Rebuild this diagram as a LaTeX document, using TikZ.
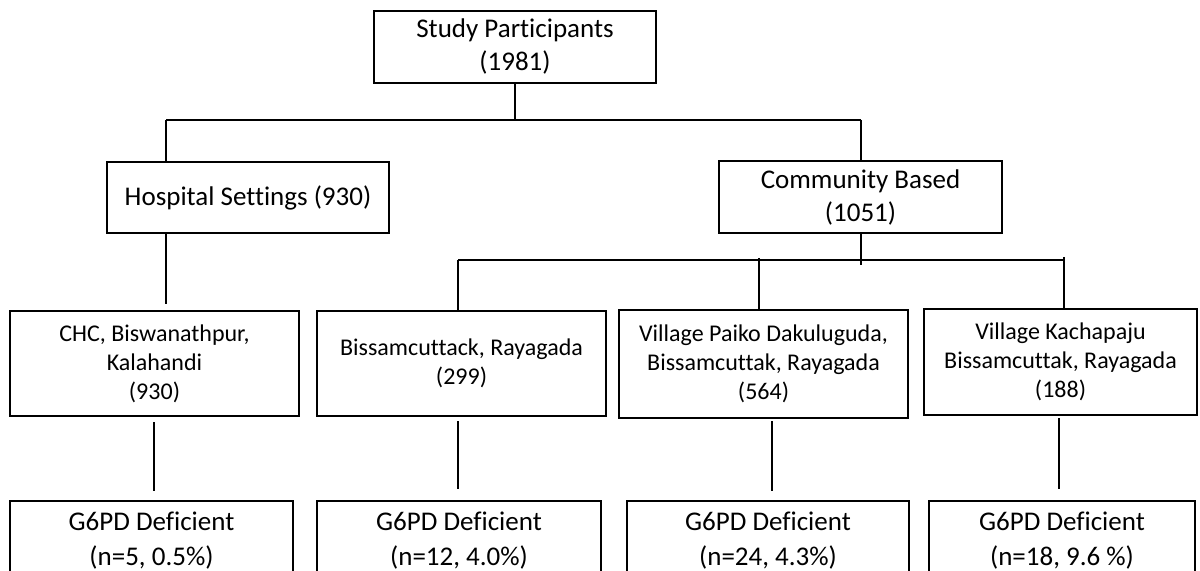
\documentclass[tikz,border=0pt]{standalone}
\usepackage{fontspec}
\setmainfont{Carlito}[Ligatures=NoCommon]
\begin{document}
\begin{tikzpicture}[x=1bp,y=-1bp,
  box/.style={draw=black, line width=2.6bp, inner sep=0pt, align=center, text=black},
  big/.style={font=\fontsize{27bp}{33bp}\selectfont},
  mid/.style={font=\fontsize{24bp}{29bp}\selectfont},
  low/.style={font=\fontsize{27bp}{35bp}\selectfont},
  conn/.style={draw=black, line width=1.8bp}]
\useasboundingbox (0,0) rectangle (1200,571);
\fill[white] (0,0) rectangle (1200,571);
\clip (0,0) rectangle (1200,571);
% level 0
\node[box,big,minimum width=282bp,minimum height=72bp] (root) at (515,47) {Study Participants\\(1981)};
% level 1
\node[box,big,minimum width=282bp,minimum height=71bp] (hosp) at (248,197.5) {Hospital Settings (930)};
\node[box,big,minimum width=283bp,minimum height=72bp] (comm) at (860.5,197) {Community Based\\(1051)};
% level 2
\node[box,mid,minimum width=289bp,minimum height=105bp] (chc) at (154.5,363.5) {CHC, Biswanathpur,\\Kalahandi\\(930)};
\node[box,mid,minimum width=289bp,minimum height=105bp] (bis) at (461.5,363.5) {Bissamcuttack, Rayagada\\(299)};
\node[box,mid,minimum width=289bp,minimum height=108bp] (pai) at (763.5,364) {Village Paiko Dakuluguda,\\Bissamcuttak, Rayagada\\(564)};
\node[box,mid,minimum width=273bp,minimum height=106bp] (kac) at (1060.5,362) {Village Kachapaju\\Bissamcuttak, Rayagada\\(188)};
% level 3
\node[box,low,minimum width=283bp,minimum height=79bp] (g1) at (151.5,540.5) {G6PD Deficient\\(n=5, 0.5\%)};
\node[box,low,minimum width=284bp,minimum height=79bp] (g2) at (459,540.5) {G6PD Deficient\\(n=12, 4.0\%)};
\node[box,low,minimum width=282bp,minimum height=79bp] (g3) at (768,540.5) {G6PD Deficient\\(n=24, 4.3\%)};
\node[box,low,minimum width=266bp,minimum height=79bp] (g4) at (1062,540.5) {G6PD Deficient\\(n=18, 9.6 \%)};
% top bus
\coordinate (bL) at (166,120);
\coordinate (bR) at (861,120);
\draw[conn] (root.south) -- (root.south |- bL);
\draw[conn] (bL) -- (bR);
\draw[conn] (bL) -- (bL |- hosp.north);
\draw[conn] (bR) -- (bR |- comm.north);
\draw[conn, shorten >=6bp] (bL |- hosp.south) -- (bL |- chc.north);
% community bus
\coordinate (cL) at (458,260);
\coordinate (cR) at (1064,260);
\coordinate (cM) at (861,265);
\coordinate (cP) at (759,258);
\coordinate (cK) at (1064,257);
\draw[conn] (comm.south -| cM) -- (cM);
\draw[conn] (cL) -- (cR);
\draw[conn] (cL) -- (cL |- bis.north);
\draw[conn] (cP) -- (cP |- pai.north);
\draw[conn] (cK) -- (cK |- kac.north);
% lower connectors
\coordinate (d1) at (154,0);
\coordinate (d2) at (458,0);
\coordinate (d3) at (772,0);
\coordinate (d4) at (1059,0);
\draw[conn, shorten <=5bp, shorten >=9bp] (d1 |- chc.south) -- (d1 |- g1.north);
\draw[conn, shorten <=4bp, shorten >=11bp] (d2 |- bis.south) -- (d2 |- g2.north);
\draw[conn, shorten <=2bp, shorten >=9bp] (d3 |- pai.south) -- (d3 |- g3.north);
\draw[conn, shorten <=2bp, shorten >=11bp] (d4 |- kac.south) -- (d4 |- g4.north);
\end{tikzpicture}
\end{document}
